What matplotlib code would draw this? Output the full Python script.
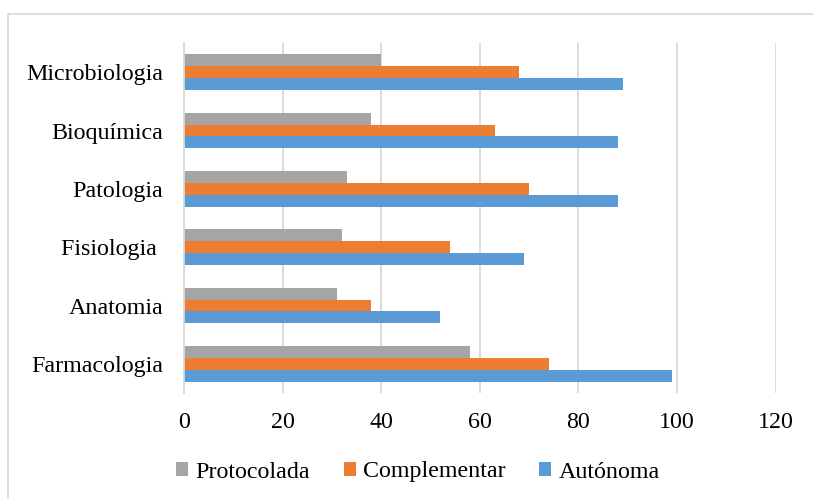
import matplotlib
matplotlib.use("Agg")
import matplotlib.pyplot as plt
from matplotlib.patches import Patch, Rectangle
import numpy as np

plt.rcParams['font.family'] = ['Liberation Serif', 'DejaVu Serif']

categories = ["Farmacologia", "Anatomia", "Fisiologia ", "Patologia", "Bioquímica", "Microbiologia"]
protocolada = [58, 31, 32, 33, 38, 40]
complementar = [74, 38, 54, 70, 63, 68]
autonoma = [99, 52, 69, 88, 88, 89]
series_names = ["Protocolada", "Complementar", "Autónoma"]
x_ticks = [0, 20, 40, 60, 80, 100, 120]

colors = {"Protocolada": "#A5A5A5", "Complementar": "#ED7D31", "Autónoma": "#5B9BD5"}

W, H = 813, 499
fig = plt.figure(figsize=(W / 100, H / 100), dpi=100)
fig.patch.set_facecolor("white")

# outer chart frame
fig.patches.append(Rectangle((8 / W, -0.1), 1.2, 1 - 14 / H + 0.1, transform=fig.transFigure,
                             facecolor="none", edgecolor="#D9D9D9", linewidth=1.3))

ax = fig.add_axes([184 / W, 1 - 393 / H, (775.7 - 184) / W, (393 - 43) / H])

y = np.arange(len(categories))
h = 0.205
ax.barh(y + h, protocolada, height=h, color=colors["Protocolada"], zorder=3)
ax.barh(y, complementar, height=h, color=colors["Complementar"], zorder=3)
ax.barh(y - h, autonoma, height=h, color=colors["Autónoma"], zorder=3)

ax.set_xlim(0, 120)
ax.set_ylim(-0.5, len(categories) - 0.5)
ax.set_xticks(x_ticks)
ax.set_xticklabels([str(t) for t in x_ticks])
ax.set_yticks(y)
ax.set_yticklabels(categories)
ax.tick_params(axis="both", length=0, labelsize=17.3, colors="black")
ax.tick_params(axis="x", pad=14)
ax.tick_params(axis="y", pad=15)

ax.grid(axis="x", color="#D9D9D9", linewidth=1.3, zorder=0)
for s in ["top", "right", "bottom"]:
    ax.spines[s].set_visible(False)
ax.spines["left"].set_color("#D9D9D9")
ax.spines["left"].set_linewidth(1.3)
ax.spines["left"].set_zorder(4)

handles = [Patch(facecolor=colors[n], edgecolor="none") for n in series_names]
fig.legend(handles, series_names, loc="center", bbox_to_anchor=(418 / W, 1 - 472 / H),
           ncol=3, frameon=False, fontsize=17.3, handlelength=0.5, handleheight=0.5,
           handletextpad=0.3, columnspacing=1.4, borderpad=0)

fig.savefig("out.png", dpi=100)
